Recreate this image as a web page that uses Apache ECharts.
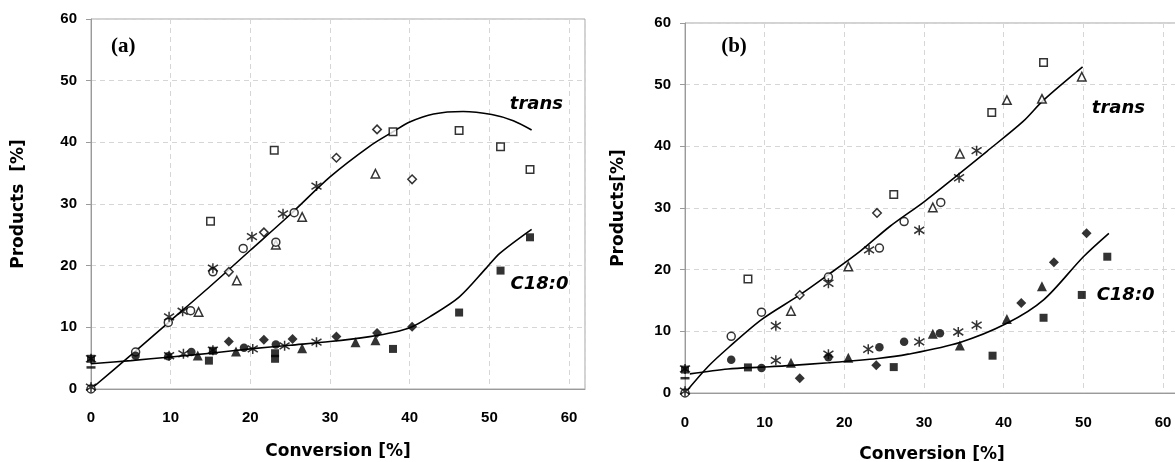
<!DOCTYPE html>
<html>
<head>
<meta charset="utf-8">
<script src="https://cdn.jsdelivr.net/npm/echarts@6/dist/echarts.min.js"></script>
<style>
  html, body { margin: 0; padding: 0; background: #fff; }
  #chart { width: 1175px; height: 462px; }
</style>
</head>
<body>
<div id="chart"></div>
<script>
// panel (a) data: [conversion %, products %]
const aOpenSquare = [[15, 27.2], [23.0, 38.7], [37.9, 41.7], [46.2, 41.9], [51.4, 39.3], [55.1, 35.6]];
const aOpenDiamond = [[17.3, 19.0], [21.7, 25.4], [30.8, 37.5], [35.9, 42.1], [40.3, 34.0]];
const aOpenTriangle = [[13.5, 12.5], [18.3, 17.6], [23.2, 23.4], [26.5, 27.9], [35.7, 34.9]];
const aOpenCircle = [[0, 0], [5.6, 6.0], [9.7, 10.8], [12.5, 12.7], [15.3, 19.0], [19.1, 22.8], [23.2, 23.8], [25.5, 28.6]];
const aStar = [[0, 0.3], [9.8, 11.7], [11.5, 12.6], [15.3, 19.6], [20.2, 24.7], [24.1, 28.4], [28.3, 32.9],
  [0, 4.9], [9.8, 5.4], [11.6, 5.7], [15.3, 6.3], [20.3, 6.5], [24.3, 7.0], [28.3, 7.6]];
const aFilledSquare = [[0, 4.9], [14.8, 4.6], [15.3, 6.2], [23.1, 5.8], [23.1, 4.9], [37.9, 6.5], [46.2, 12.4], [51.4, 19.2], [55.1, 24.6]];
const aFilledDiamond = [[17.3, 7.7], [21.7, 8.0], [25.3, 8.1], [30.8, 8.5], [35.9, 9.1], [40.3, 10.1]];
const aFilledTriangle = [[13.4, 5.45], [18.2, 6.1], [26.5, 6.6], [33.2, 7.6], [35.7, 7.9]];
const aFilledCircle = [[5.6, 5.4], [9.7, 5.3], [12.6, 6.0], [19.2, 6.7], [23.2, 7.2]];
const aDash = [[0, 3.5]];
const aTransFit = [[0, 0], [5, 5.5], [10, 11.1], [15, 16.7], [20, 22.5], [25, 28.3], [30, 34.4], [35, 39.4], [38, 41.8],
  [40, 43.3], [43, 44.6], [46.7, 45.0], [50.3, 44.5], [53, 43.5], [55.3, 42.0]];
const aSatFit = [[0, 4.1], [5, 4.6], [10, 5.2], [15, 5.8], [20, 6.5], [25, 7.1], [30, 7.7], [35, 8.5], [38, 9.2],
  [40.3, 10.1], [42.5, 11.7], [46.2, 14.9], [49.6, 19.6], [51.3, 22.0], [55.3, 25.9]];

// panel (b) data
const bOpenSquare = [[7.9, 18.5], [26.2, 32.2], [38.5, 45.5], [45.0, 53.6]];
const bOpenDiamond = [[14.4, 15.9], [24.1, 29.2]];
const bOpenTriangle = [[13.3, 13.3], [20.5, 20.5], [31.1, 30.1], [34.5, 38.8], [40.4, 47.5], [44.8, 47.7], [49.8, 51.3]];
const bOpenCircle = [[0, 0], [5.8, 9.2], [9.6, 13.1], [18.0, 18.8], [24.4, 23.5], [27.5, 27.8], [32.1, 30.9]];
const bStar = [[0, 0.3], [11.4, 10.9], [18.0, 17.8], [23.1, 23.2], [29.4, 26.4], [34.4, 34.9], [36.6, 39.3],
  [0, 3.9], [11.4, 5.3], [18.0, 6.3], [23.0, 7.1], [29.4, 8.3], [34.3, 9.9], [36.6, 11.0]];
const bFilledSquare = [[0, 3.8], [7.9, 4.15], [26.2, 4.2], [38.6, 6.05], [45.0, 12.2], [49.8, 15.9], [53.0, 22.1]];
const bFilledDiamond = [[14.4, 2.4], [24.0, 4.5], [42.2, 14.6], [46.3, 21.2], [50.4, 25.9]];
const bFilledTriangle = [[13.3, 4.9], [20.5, 5.7], [31.1, 9.6], [34.5, 7.7], [40.4, 12.0], [44.8, 17.3]];
const bFilledCircle = [[5.8, 5.4], [9.6, 4.05], [18.0, 5.8], [24.4, 7.4], [27.5, 8.3], [32.0, 9.7]];
const bDash = [[0, 2.4]];
const bTransFit = [[0, 0], [2.9, 4.3], [5.4, 7.3], [9.6, 11.9], [14.4, 15.9], [18, 19.2], [22, 23], [25.7, 27.0],
  [30, 31], [33.7, 34.8], [37.9, 39.2], [42.4, 44.0], [45, 47.5], [49.9, 52.9]];
const bSatFit = [[0.6, 3.1], [5.4, 3.9], [9.6, 4.2], [12.5, 4.4], [18, 4.9], [24.2, 5.6], [28, 6.3], [34.5, 8.2],
  [40.4, 11.3], [45, 15.1], [50, 22.1], [53.2, 25.9]];

// text annotations, anchored in data coordinates
const panelLabels = ["(a)", "(b)"];
const panelLabelPos = [[4.05, 55.6], [6.15, 56.2]];
const curveLabels = ["trans", "C18:0"];
const curveLabelPosA = [[55.9, 46.1], [56.3, 17.0]];
const curveLabelPosB = [[54.4, 46.2], [55.3, 15.8]];

const STAR = "path://M5,0V10M0,1.7L10,8.3M10,1.7L0,8.3";
const tickFont = { fontFamily: "Liberation Sans", fontWeight: "bold", fontSize: 15, color: "#000" };
const nameFont = { fontFamily: "DejaVu Sans", fontWeight: "bold", fontSize: 17, color: "#000" };

function scatter(data, idx, symbol, size, filled) {
  return {
    type: "scatter",
    xAxisIndex: idx,
    yAxisIndex: idx,
    data: data,
    symbol: symbol,
    symbolSize: size,
    z: 3,
    itemStyle: filled
      ? { color: "#000" }
      : { color: symbol === STAR ? "transparent" : "#fff", borderColor: "#000", borderWidth: 1.5 },
  };
}

function fit(data, idx) {
  return {
    type: "line",
    xAxisIndex: idx,
    yAxisIndex: idx,
    data: data,
    smooth: 0.3,
    showSymbol: false,
    z: 2,
    lineStyle: { color: "#000", width: 1.6 },
  };
}

function panelSeries(idx, d) {
  return [
    fit(d.transFit, idx),
    fit(d.satFit, idx),
    scatter(d.openSquare, idx, "rect", 7.5, false),
    scatter(d.openDiamond, idx, "diamond", 8.5, false),
    scatter(d.openTriangle, idx, "triangle", 8.5, false),
    scatter(d.openCircle, idx, "circle", 8, false),
    scatter(d.filledSquare, idx, "rect", 8, true),
    scatter(d.filledDiamond, idx, "diamond", 10, true),
    scatter(d.filledTriangle, idx, "triangle", 10, true),
    scatter(d.filledCircle, idx, "circle", 8.5, true),
    scatter(d.dash, idx, "rect", [9, 2.5], true),
    scatter(d.star, idx, STAR, 10, false),
  ];
}

function xAxis(idx) {
  return {
    type: "value",
    gridIndex: idx,
    min: 0,
    max: 62,
    interval: 10,
    name: "Conversion [%]",
    nameLocation: "middle",
    nameGap: idx === 0 ? 54 : 53,
    nameTextStyle: nameFont,
    axisLine: { lineStyle: { color: "#9a9a9a", width: 1 } },
    axisTick: { show: false },
    axisLabel: Object.assign({ margin: idx === 0 ? 21 : 22, formatter: (v) => (v % 10 === 0 ? String(v) : "") }, tickFont),
    splitLine: { show: true, lineStyle: { color: "#d6d6d6", type: [5, 4], width: 1 } },
  };
}

function yAxis(idx) {
  return {
    type: "value",
    gridIndex: idx,
    min: 0,
    max: 60,
    interval: 10,
    name: idx === 0 ? "Products  [%]" : "Products[%]",
    nameLocation: "middle",
    nameRotate: 90,
    nameGap: idx === 0 ? 64 : 58,
    nameTextStyle: nameFont,
    axisLine: { show: true, lineStyle: { color: "#9a9a9a", width: 1 } },
    axisTick: { show: true, length: 5, lineStyle: { color: "#9a9a9a" } },
    axisLabel: Object.assign({ margin: 14 }, tickFont),
    splitLine: { show: true, lineStyle: { color: "#d6d6d6", type: [5, 4], width: 1 } },
  };
}

const chart = echarts.init(document.getElementById("chart"));
chart.setOption({
  animation: false,
  backgroundColor: "#fff",
  grid: [
    { left: 91, top: 19, width: 494, height: 370, show: true, borderColor: "#a6a6a6", borderWidth: 1, outerBoundsMode: "none" },
    { left: 685, top: 23, width: 494, height: 370, show: true, borderColor: "#a6a6a6", borderWidth: 1, outerBoundsMode: "none" },
  ],
  xAxis: [xAxis(0), xAxis(1)],
  yAxis: [yAxis(0), yAxis(1)],
  series: [
    ...panelSeries(0, {
      transFit: aTransFit, satFit: aSatFit, openSquare: aOpenSquare, openDiamond: aOpenDiamond,
      openTriangle: aOpenTriangle, openCircle: aOpenCircle, filledSquare: aFilledSquare,
      filledDiamond: aFilledDiamond, filledTriangle: aFilledTriangle, filledCircle: aFilledCircle,
      dash: aDash, star: aStar,
    }),
    ...panelSeries(1, {
      transFit: bTransFit, satFit: bSatFit, openSquare: bOpenSquare, openDiamond: bOpenDiamond,
      openTriangle: bOpenTriangle, openCircle: bOpenCircle, filledSquare: bFilledSquare,
      filledDiamond: bFilledDiamond, filledTriangle: bFilledTriangle, filledCircle: bFilledCircle,
      dash: bDash, star: bStar,
    }),
  ],
});

// place panel tags and curve names using the axes' own scales
const texts = [];
panelLabels.forEach((t, i) => {
  const p = chart.convertToPixel({ gridIndex: i }, panelLabelPos[i]);
  texts.push({
    type: "text", x: p[0], y: p[1], z: 10,
    style: { text: t, font: "bold 21px 'Liberation Serif'", fill: "#000", align: "center", verticalAlign: "middle" },
  });
});
[curveLabelPosA, curveLabelPosB].forEach((pos, i) => {
  curveLabels.forEach((t, j) => {
    const p = chart.convertToPixel({ gridIndex: i }, pos[j]);
    texts.push({
      type: "text", x: p[0], y: p[1], z: 10,
      style: { text: t, font: "italic bold 18px 'DejaVu Sans'", fill: "#000", align: "center", verticalAlign: "middle" },
    });
  });
});
chart.setOption({ graphic: texts });
</script>
</body>
</html>
